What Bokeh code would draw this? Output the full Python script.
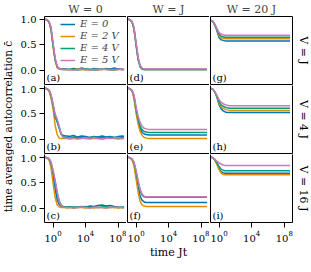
from math import pi
from bokeh.plotting import figure
from bokeh.models import (Range1d, FixedTicker, LinearAxis, LogAxis, NumeralTickFormatter,
                          Label, Legend, LegendItem)
from bokeh.layouts import gridplot, row
from bokeh.embed import file_html
from bokeh.resources import INLINE

# ---------------- data ----------------
E_LABELS = ["E = 0", "E = 2 V", "E = 4 V", "E = 5 V"]
COLORS = ["#0173B2", "#DE8F05", "#029E73", "#CC78BC"]
W_TITLES = ["W = 0", "W = J", "W = 20 J"]
V_LABELS = ["V = J", "V = 4 J", "V = 16 J"]
PANEL_TAGS = [["(a)", "(d)", "(g)"], ["(b)", "(e)", "(h)"], ["(c)", "(f)", "(i)"]]
X_TICKS = [1, 1e4, 1e8]
Y_TICKS = [0.0, 0.5, 1.0]
Y_LABEL = "time averaged autocorrelation c\u0304"
X_LABEL = "time Jt"

T_DECAY = [0.1, 0.18, 0.32, 0.56, 1.0, 1.8, 3.2, 5.6, 10.0, 18.0, 32.0]
T_NOISY = T_DECAY + [56, 100, 320, 1e3, 3.2e3, 1e4, 3.2e4, 1e5, 3.2e5, 1e6, 3.2e6,
                     1e7, 3.2e7, 1e8, 3.2e8, 5e8]
T_SMOOTH = T_DECAY + [100, 1e4, 1e6, 5e8]

# W = 0 column (noisy tails)
a_E0 = [1.00, 0.99, 0.95, 0.82, 0.50, 0.22, 0.08, 0.04, 0.03, 0.03, 0.03,
        0.03, 0.02, 0.04, 0.03, 0.05, 0.03, 0.02, 0.04, 0.03, 0.02, 0.04, 0.03, 0.05, 0.03, 0.02, 0.03]
a_E2 = [1.00, 0.99, 0.94, 0.80, 0.47, 0.19, 0.06, 0.03, 0.02, 0.02, 0.02,
        0.02, 0.01, 0.02, 0.03, 0.02, 0.01, 0.02, 0.02, 0.01, 0.02, 0.03, 0.02, 0.01, 0.02, 0.02, 0.02]
a_E4 = [1.00, 0.99, 0.95, 0.81, 0.49, 0.21, 0.07, 0.04, 0.03, 0.02, 0.02,
        0.02, 0.03, 0.02, 0.01, 0.02, 0.03, 0.02, 0.01, 0.02, 0.03, 0.02, 0.02, 0.01, 0.03, 0.02, 0.02]
a_E5 = [1.00, 0.99, 0.96, 0.85, 0.55, 0.25, 0.09, 0.04, 0.03, 0.02, 0.02,
        0.02, 0.02, 0.01, 0.02, 0.03, 0.02, 0.01, 0.02, 0.02, 0.03, 0.02, 0.01, 0.02, 0.02, 0.03, 0.02]

b_E0 = [1.00, 0.99, 0.96, 0.86, 0.66, 0.45, 0.35, 0.22, 0.11, 0.08, 0.07,
        0.07, 0.06, 0.08, 0.05, 0.07, 0.06, 0.04, 0.06, 0.05, 0.07, 0.05, 0.06, 0.04, 0.06, 0.07, 0.06]
b_E2 = [1.00, 0.99, 0.94, 0.82, 0.60, 0.28, 0.10, 0.03, 0.02, 0.02, 0.02,
        0.02, 0.01, 0.02, 0.02, 0.03, 0.02, 0.01, 0.02, 0.02, 0.01, 0.02, 0.03, 0.02, 0.01, 0.02, 0.02]
b_E4 = [1.00, 0.99, 0.96, 0.86, 0.67, 0.46, 0.36, 0.24, 0.10, 0.05, 0.04,
        0.04, 0.03, 0.05, 0.04, 0.03, 0.02, 0.04, 0.05, 0.03, 0.04, 0.03, 0.05, 0.04, 0.03, 0.04, 0.03]
b_E5 = [1.00, 0.99, 0.97, 0.88, 0.70, 0.50, 0.40, 0.26, 0.10, 0.04, 0.03,
        0.03, 0.02, 0.03, 0.01, 0.02, 0.03, 0.02, 0.04, 0.02, 0.01, 0.03, 0.02, 0.03, 0.04, 0.02, 0.03]

c_E0 = [1.00, 0.99, 0.96, 0.86, 0.65, 0.38, 0.17, 0.08, 0.04, 0.03, 0.03,
        0.03, 0.04, 0.02, 0.03, 0.04, 0.03, 0.05, 0.04, 0.06, 0.07, 0.05, 0.06, 0.04, 0.03, 0.02, 0.03]
c_E2 = [1.00, 0.99, 0.95, 0.80, 0.50, 0.22, 0.07, 0.03, 0.02, 0.02, 0.02,
        0.01, 0.02, 0.01, 0.02, 0.02, 0.01, 0.02, 0.01, 0.02, 0.02, 0.01, 0.02, 0.02, 0.01, 0.02, 0.01]
c_E4 = [1.00, 0.99, 0.97, 0.90, 0.73, 0.52, 0.30, 0.15, 0.07, 0.04, 0.03,
        0.03, 0.02, 0.03, 0.02, 0.03, 0.04, 0.02, 0.03, 0.02, 0.03, 0.04, 0.02, 0.03, 0.02, 0.03, 0.04]
c_E5 = [1.00, 0.99, 0.98, 0.91, 0.75, 0.55, 0.33, 0.14, 0.06, 0.03, 0.02,
        0.02, 0.03, 0.01, 0.02, 0.03, 0.02, 0.01, 0.03, 0.02, 0.02, 0.01, 0.03, 0.02, 0.03, 0.02, 0.01]

# W = J column
d_E0 = [1.00, 0.99, 0.95, 0.82, 0.52, 0.23, 0.08, 0.03, 0.02, 0.02, 0.02, 0.02, 0.02, 0.02, 0.02]
d_E2 = [1.00, 0.99, 0.94, 0.80, 0.49, 0.21, 0.07, 0.03, 0.02, 0.02, 0.02, 0.02, 0.02, 0.02, 0.02]
d_E4 = [1.00, 0.99, 0.95, 0.82, 0.51, 0.22, 0.08, 0.03, 0.02, 0.02, 0.02, 0.02, 0.02, 0.02, 0.02]
d_E5 = [1.00, 0.99, 0.96, 0.84, 0.55, 0.26, 0.10, 0.05, 0.03, 0.03, 0.03, 0.03, 0.03, 0.03, 0.03]

e_E0 = [1.00, 0.99, 0.95, 0.83, 0.57, 0.36, 0.22, 0.14, 0.11, 0.10, 0.09, 0.09, 0.09, 0.09, 0.09]
e_E2 = [1.00, 0.99, 0.94, 0.80, 0.52, 0.30, 0.16, 0.08, 0.04, 0.03, 0.02, 0.02, 0.02, 0.02, 0.02]
e_E4 = [1.00, 0.99, 0.96, 0.85, 0.60, 0.40, 0.26, 0.19, 0.16, 0.15, 0.14, 0.14, 0.14, 0.14, 0.14]
e_E5 = [1.00, 0.99, 0.96, 0.87, 0.65, 0.45, 0.33, 0.26, 0.22, 0.21, 0.20, 0.20, 0.20, 0.20, 0.20]

f_E0 = [1.00, 0.99, 0.96, 0.87, 0.65, 0.42, 0.24, 0.16, 0.13, 0.12, 0.12, 0.12, 0.12, 0.12, 0.12]
f_E2 = [1.00, 0.99, 0.95, 0.84, 0.58, 0.32, 0.14, 0.07, 0.05, 0.04, 0.04, 0.04, 0.04, 0.04, 0.04]
f_E4 = [1.00, 0.99, 0.97, 0.90, 0.72, 0.52, 0.35, 0.26, 0.23, 0.22, 0.22, 0.22, 0.22, 0.22, 0.22]
f_E5 = [1.00, 0.99, 0.97, 0.91, 0.75, 0.55, 0.37, 0.28, 0.24, 0.23, 0.23, 0.23, 0.23, 0.23, 0.23]

# W = 20 J column
g_E0 = [0.98, 0.95, 0.88, 0.77, 0.64, 0.60, 0.59, 0.58, 0.58, 0.58, 0.58, 0.58, 0.58, 0.58, 0.58]
g_E2 = [0.98, 0.96, 0.88, 0.79, 0.68, 0.64, 0.63, 0.62, 0.62, 0.62, 0.62, 0.62, 0.62, 0.62, 0.62]
g_E4 = [0.98, 0.96, 0.89, 0.80, 0.71, 0.67, 0.66, 0.65, 0.65, 0.65, 0.65, 0.65, 0.65, 0.65, 0.65]
g_E5 = [0.98, 0.96, 0.90, 0.82, 0.74, 0.71, 0.70, 0.69, 0.69, 0.69, 0.69, 0.69, 0.69, 0.69, 0.69]

h_E0 = [1.00, 0.98, 0.92, 0.82, 0.68, 0.60, 0.56, 0.54, 0.53, 0.53, 0.53, 0.53, 0.53, 0.53, 0.53]
h_E2 = [1.00, 0.98, 0.92, 0.83, 0.71, 0.64, 0.61, 0.59, 0.58, 0.57, 0.57, 0.57, 0.57, 0.57, 0.57]
h_E4 = [1.00, 0.98, 0.92, 0.84, 0.74, 0.68, 0.65, 0.63, 0.62, 0.61, 0.61, 0.61, 0.61, 0.61, 0.61]
h_E5 = [1.00, 0.98, 0.93, 0.86, 0.78, 0.73, 0.70, 0.68, 0.67, 0.66, 0.66, 0.66, 0.66, 0.66, 0.66]

i_E0 = [1.00, 0.99, 0.94, 0.87, 0.78, 0.72, 0.70, 0.69, 0.69, 0.69, 0.69, 0.69, 0.69, 0.69, 0.69]
i_E2 = [1.00, 0.99, 0.94, 0.86, 0.76, 0.69, 0.67, 0.66, 0.66, 0.66, 0.66, 0.66, 0.66, 0.66, 0.66]
i_E4 = [1.00, 0.99, 0.95, 0.89, 0.82, 0.77, 0.75, 0.74, 0.74, 0.74, 0.74, 0.74, 0.74, 0.74, 0.74]
i_E5 = [1.00, 0.99, 0.96, 0.92, 0.89, 0.87, 0.85, 0.84, 0.84, 0.84, 0.84, 0.84, 0.84, 0.84, 0.84]

PANELS = [
    [(T_NOISY, [a_E0, a_E2, a_E4, a_E5]), (T_SMOOTH, [d_E0, d_E2, d_E4, d_E5]), (T_SMOOTH, [g_E0, g_E2, g_E4, g_E5])],
    [(T_NOISY, [b_E0, b_E2, b_E4, b_E5]), (T_SMOOTH, [e_E0, e_E2, e_E4, e_E5]), (T_SMOOTH, [h_E0, h_E2, h_E4, h_E5])],
    [(T_NOISY, [c_E0, c_E2, c_E4, c_E5]), (T_SMOOTH, [f_E0, f_E2, f_E4, f_E5]), (T_SMOOTH, [i_E0, i_E2, i_E4, i_E5])],
]

# ---------------- styling ----------------
FONT = "DejaVu Serif"
FW, FH = 82, 68
XMIN, XMAX = 10 ** -1.05, 10 ** 9.0
YMIN, YMAX = -0.27, 1.055


def style_axis(ax, show, ticks=None):
    ax.axis_line_color = "black"
    ax.axis_line_width = 1
    ax.minor_tick_line_color = None
    ax.minor_tick_in = 0
    ax.minor_tick_out = 0
    ax.major_tick_in = 0
    ax.major_tick_line_color = "black"
    ax.major_label_text_font = FONT
    ax.major_label_text_color = "black"
    ax.axis_label_text_font = FONT
    ax.axis_label_text_font_style = "normal"
    ax.axis_label_text_font_size = "11px"
    ax.axis_label_text_color = "black"
    if show:
        ax.ticker = FixedTicker(ticks=ticks, minor_ticks=[])
        ax.major_tick_out = 5
        ax.major_label_standoff = 3
        ax.major_label_text_font_size = "10px"
    else:
        ax.ticker = FixedTicker(ticks=[], minor_ticks=[])
        ax.major_tick_out = 0
        ax.major_label_standoff = 0
        ax.major_label_text_font_size = "0px"


figs = []
for r in range(3):
    for c in range(3):
        p = figure(x_axis_type="log",
                   x_range=Range1d(XMIN, XMAX), y_range=Range1d(YMIN, YMAX),
                   frame_width=FW, frame_height=FH,
                   output_backend="svg", toolbar_location=None,
                   min_border_left=(30 if c == 0 else 1),
                   min_border_right=(17 if c == 2 else 0),
                   min_border_top=0,
                   min_border_bottom=(33 if r == 2 else 1),
                   title=(W_TITLES[c] if r == 0 else None))
        p.outline_line_color = None
        p.grid.visible = False
        p.background_fill_color = "white"
        p.border_fill_color = "white"

        bottom_ax = p.below[0]
        left_ax = p.left[0]
        style_axis(bottom_ax, r == 2, X_TICKS)
        style_axis(left_ax, c == 0, Y_TICKS)
        if c == 0:
            left_ax.formatter = NumeralTickFormatter(format="0.0")
        if r == 2 and c == 1:
            bottom_ax.axis_label = X_LABEL
            bottom_ax.axis_label_standoff = 1

        if r == 0:
            p.title.text_font = FONT
            p.title.text_font_size = "11px"
            p.title.text_font_style = "normal"
            p.title.align = "center"
            p.title.standoff = 1
            top = LogAxis()
            style_axis(top, False)
            p.add_layout(top, "above")
        if c == 2:
            rax = LinearAxis(axis_label=V_LABELS[r])
            style_axis(rax, False)
            rax.axis_label_standoff = 4
            p.add_layout(rax, "right")

        t, series = PANELS[r][c]
        rends = []
        for ys, col in zip(series, COLORS):
            rends.append(p.line(t, ys, line_color=col, line_width=1.5))

        p.add_layout(Label(x=XMIN, y=YMIN, x_offset=2, y_offset=2, text=PANEL_TAGS[r][c],
                           text_font=FONT, text_font_size="10px", text_color="black",
                           text_baseline="bottom", text_align="left"))

        if r == 0 and c == 0:
            legend = Legend(items=[LegendItem(label=lab, renderers=[rd]) for lab, rd in zip(E_LABELS, rends)],
                            location=(16, 19), padding=2, spacing=1,
                            glyph_width=15, glyph_height=10, label_height=10,
                            label_standoff=5, label_text_font=FONT,
                            label_text_font_size="10px", label_text_font_style="italic",
                            border_line_color=None, background_fill_alpha=0)
            p.add_layout(legend, "center")
        figs.append(p)

grid = gridplot(figs, ncols=3, toolbar_location=None)

TOTAL_H = 262
ystrip = figure(width=14, height=TOTAL_H, x_range=Range1d(0, 1), y_range=Range1d(0, TOTAL_H),
                output_backend="svg", toolbar_location=None, min_border=0)
ystrip.outline_line_color = None
ystrip.axis.visible = False
ystrip.grid.visible = False
ystrip.add_layout(Label(x=0.5, y=TOTAL_H - 126, text=Y_LABEL, angle=pi / 2,
                        text_font=FONT, text_font_size="10.5px", text_color="black",
                        text_align="center", text_baseline="middle"))

layout = row(ystrip, grid)
open("out.html", "w").write(file_html(layout, INLINE))
